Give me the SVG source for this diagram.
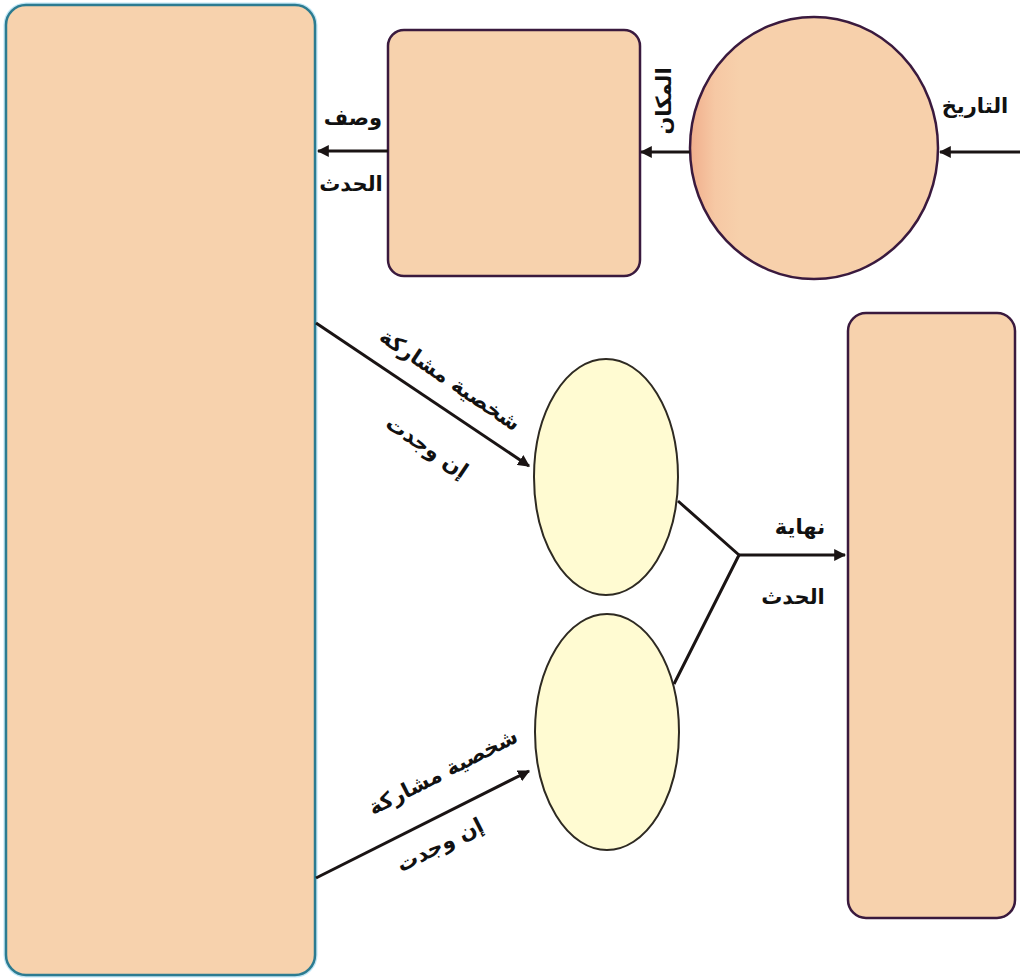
<svg xmlns="http://www.w3.org/2000/svg" width="1020" height="979" viewBox="0 0 1020 979">
<defs>
<style>
.peach{fill:#f7d2ad;}
.dark{stroke:#3a1a3e;stroke-width:2.5;}
.oval{fill:#fffbd2;stroke:#2e2a22;stroke-width:2;}
.con{stroke:#1a1414;stroke-width:3;fill:none;}
.lbl{font-family:"DejaVu Sans",sans-serif;font-weight:bold;font-size:21px;fill:#111;text-anchor:middle;dominant-baseline:central;}
</style>
<linearGradient id="circ" x1="0" y1="0" x2="1" y2="0">
<stop offset="0" stop-color="#f0ae8c"/>
<stop offset="0.1" stop-color="#f6c8a4"/>
<stop offset="0.2" stop-color="#f7d0ab"/>
<stop offset="1" stop-color="#f7d0ab"/>
</linearGradient>
<marker id="ah" viewBox="0 0 10 10" refX="9" refY="5" markerWidth="4" markerHeight="4" orient="auto" markerUnits="strokeWidth">
<path d="M0,0 L10,5 L0,10 z" fill="#1a1414"/>
</marker>
</defs>
<rect width="1020" height="979" fill="#ffffff"/>
<g id="big-rect">
<rect x="6" y="5" width="309" height="970" rx="20" fill="none" stroke="#bfe6f6" stroke-width="5"/>
<rect x="6" y="5" width="309" height="970" rx="20" class="peach" stroke="#2c7b90" stroke-width="2.5"/>
</g>
<g id="top-rect">
<rect x="388" y="30" width="252" height="246" rx="16" class="peach dark"/>
</g>
<g id="circle">
<ellipse cx="814" cy="148" rx="124" ry="131" fill="url(#circ)" class="dark"/>
</g>
<g id="right-rect">
<rect x="848" y="313" width="167" height="605" rx="18" class="peach dark"/>
</g>
<g id="oval-top">
<ellipse cx="606" cy="477" rx="72" ry="118" class="oval"/>
</g>
<g id="oval-bottom">
<ellipse cx="607" cy="732" rx="72" ry="118" class="oval"/>
</g>
<g id="connectors">
<line x1="1020" y1="152" x2="940" y2="152" class="con" marker-end="url(#ah)"/>
<line x1="690" y1="152" x2="641" y2="152" class="con" marker-end="url(#ah)"/>
<line x1="388" y1="151" x2="318" y2="151" class="con" marker-end="url(#ah)"/>
<line x1="316" y1="323" x2="529" y2="466" class="con" marker-end="url(#ah)"/>
<line x1="316" y1="878" x2="529" y2="771" class="con" marker-end="url(#ah)"/>
<polyline points="678,501 739,555 674,684" class="con" stroke-width="2.5"/>
<line x1="739" y1="555" x2="845" y2="555" class="con" marker-end="url(#ah)"/>
</g>
<g id="labels">
<text class="lbl" x="975" y="106">التاريخ</text>
<text class="lbl" transform="translate(664,101) rotate(-90)">المكان</text>
<text class="lbl" x="353" y="118">وصف</text>
<text class="lbl" x="351" y="184">الحدث</text>
<text class="lbl" transform="translate(450,380) rotate(34)">شخصية مشاركة</text>
<text class="lbl" transform="translate(427,447) rotate(34)">إن وجدت</text>
<text class="lbl" transform="translate(443,772) rotate(-27)">شخصية مشاركة</text>
<text class="lbl" transform="translate(440,845) rotate(-27)">إن وجدت</text>
<text class="lbl" x="800" y="527">نهاية</text>
<text class="lbl" x="793" y="597">الحدث</text>
</g>
</svg>
